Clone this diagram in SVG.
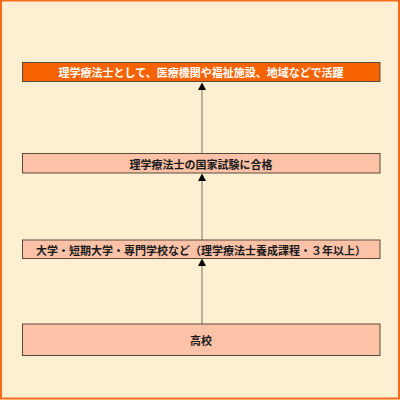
<svg xmlns="http://www.w3.org/2000/svg" width="400" height="400" viewBox="0 0 400 400">
<defs>
<style>
.box{stroke:#5a4a3a;stroke-width:1}
.peach{fill:#FCC2A8}
.orange{fill:#F76300}
.t{font-family:"Noto Sans CJK JP","Noto Sans CJK SC",sans-serif;font-size:11px;font-weight:bold;text-anchor:middle;dominant-baseline:central;fill:#1a1a1a}
.w{fill:#ffffff}
.c{stroke:#7a7060;stroke-width:1;fill:none}
</style>
<marker id="ah" markerWidth="8" markerHeight="8" viewBox="0 0 8 8" refX="4" refY="0" orient="auto-start-reverse" markerUnits="userSpaceOnUse">
<path d="M0,8 L4,0 L8,8 Z" fill="#000"/>
</marker>
</defs>
<rect x="0" y="0" width="400" height="400" fill="#FFEFD2"/>
<rect x="1" y="0.5" width="398" height="398" fill="none" stroke="#F76B1C" stroke-width="2"/>
<g id="connectors">
<line class="c" x1="202" y1="153" x2="202" y2="90" />
<path d="M198,90 L202,82.5 L206,90 Z" fill="#000"/>
<line class="c" x1="202" y1="240" x2="202" y2="181" />
<path d="M198,181 L202,173.5 L206,181 Z" fill="#000"/>
<line class="c" x1="202" y1="324" x2="202" y2="266" />
<path d="M198,266 L202,258.5 L206,266 Z" fill="#000"/>
</g>
<g id="n1">
<rect class="box orange" x="22.5" y="62.5" width="357.5" height="19"/>
<text class="t w" x="201" y="72">理学療法士として、医療機関や福祉施設、地域などで活躍</text>
</g>
<g id="n2">
<rect class="box peach" x="22.5" y="153.5" width="357.5" height="19.5"/>
<text class="t" x="201" y="163.5">理学療法士の国家試験に合格</text>
</g>
<g id="n3">
<rect class="box peach" x="22.5" y="240" width="357.5" height="18.5"/>
<text class="t" x="201" y="249.5">大学・短期大学・専門学校など（理学療法士養成課程・３年以上）</text>
</g>
<g id="n4">
<rect class="box peach" x="22.5" y="324" width="357.5" height="31.5"/>
<text class="t" x="201" y="340">高校</text>
</g>
</svg>
